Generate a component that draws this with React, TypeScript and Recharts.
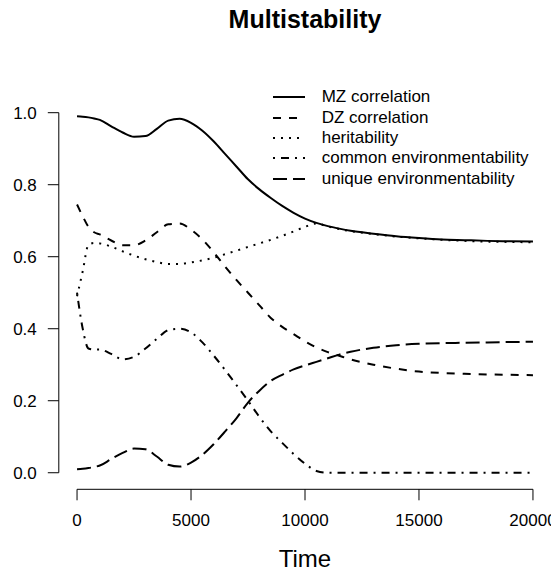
import React from 'react';
import { LineChart, Line, XAxis, YAxis, Legend, ReferenceLine } from 'recharts';

const time = [
  0, 250, 500, 750, 1000, 1500, 2000, 2500, 3000, 3500, 4000, 4500, 5000, 5500, 6000, 6500,
  7000, 7500, 8000, 8500, 9000, 9500, 10000, 10500, 11000, 11500, 12000, 13000, 14000, 15000,
  16000, 17000, 18000, 19000, 20000,
];
const mzCorrelation = [
  0.99, 0.989, 0.987, 0.984, 0.98, 0.962, 0.945, 0.933, 0.935, 0.955, 0.978, 0.983, 0.972, 0.95,
  0.92, 0.885, 0.85, 0.815, 0.787, 0.763, 0.741, 0.722, 0.706, 0.694, 0.685, 0.678, 0.672, 0.664,
  0.657, 0.652, 0.648, 0.646, 0.644, 0.643, 0.642,
];
const dzCorrelation = [
  0.745, 0.712, 0.683, 0.668, 0.662, 0.645, 0.632, 0.632, 0.645, 0.668, 0.69, 0.692, 0.675, 0.648,
  0.612, 0.572, 0.535, 0.5, 0.465, 0.43, 0.405, 0.385, 0.365, 0.348, 0.335, 0.325, 0.315, 0.3,
  0.289, 0.281, 0.277, 0.275, 0.273, 0.272, 0.271,
];
const heritability = [
  0.49, 0.56, 0.633, 0.638, 0.637, 0.628, 0.615, 0.603, 0.593, 0.585, 0.58, 0.58, 0.584, 0.59,
  0.597, 0.607, 0.617, 0.627, 0.637, 0.647, 0.658, 0.67, 0.683, 0.692, 0.684, 0.677, 0.671, 0.663,
  0.656, 0.651, 0.647, 0.644, 0.642, 0.641, 0.64,
];
const commonEnv = [
  0.5, 0.4, 0.345, 0.342, 0.342, 0.33, 0.315, 0.322, 0.345, 0.372, 0.396, 0.4, 0.39, 0.362, 0.325,
  0.285, 0.243, 0.2, 0.155, 0.115, 0.083, 0.052, 0.025, 0.005, 0, 0, 0, 0, 0, 0, 0, 0, 0, 0, 0,
];
const uniqueEnv = [
  0.01, 0.011, 0.013, 0.016, 0.02, 0.038, 0.055, 0.067, 0.065, 0.045, 0.022, 0.017, 0.028, 0.05,
  0.08, 0.115, 0.152, 0.195, 0.228, 0.255, 0.272, 0.287, 0.298, 0.308, 0.318, 0.328, 0.336, 0.347,
  0.354, 0.358, 0.36, 0.361, 0.362, 0.363, 0.364,
];

const xTicks = [0, 5000, 10000, 15000, 20000];
const yTicks = [0, 0.2, 0.4, 0.6, 0.8, 1.0];

const series = [
  { key: 'mz', name: 'MZ correlation', dash: undefined },
  { key: 'dz', name: 'DZ correlation', dash: '8 8' },
  { key: 'h2', name: 'heritability', dash: '2 6' },
  { key: 'c2', name: 'common environmentability', dash: '2 6 8 6' },
  { key: 'e2', name: 'unique environmentability', dash: '14 6' },
];

const data = time.map((t, i) => ({
  t,
  mz: mzCorrelation[i],
  dz: dzCorrelation[i],
  h2: heritability[i],
  c2: commonEnv[i],
  e2: uniqueEnv[i],
}));

const font = '"Liberation Sans", Arial, Helvetica, sans-serif';

const renderLegend = () => (
  <div style={{ fontFamily: font, fontSize: 17, color: '#000' }}>
    {series.map((s) => (
      <div key={s.key} style={{ display: 'flex', alignItems: 'center', height: 20.4 }}>
        <svg width={32} height={4} style={{ display: 'block' }}>
          <line x1={0} y1={2} x2={32} y2={2} stroke="#000" strokeWidth={2} strokeDasharray={s.dash} />
        </svg>
        <span style={{ marginLeft: 16.7, whiteSpace: 'nowrap' }}>{s.name}</span>
      </div>
    ))}
  </div>
);

export default function App() {
  return (
    <div style={{ position: 'relative', width: 551, height: 564 }}>
      <div
        style={{
          position: 'absolute',
          left: 97,
          top: -1,
          width: 400,
          textAlign: 'center',
          fontFamily: font,
          fontWeight: 'bold',
          fontSize: 25,
          lineHeight: '25px',
          zIndex: 2,
        }}
      >
        Multistability
      </div>
      <LineChart
        width={551}
        height={564}
        data={data}
        margin={{ top: 90.3, right: 7.8, bottom: 0, left: 0 }}
        style={{ overflow: 'visible' }}
      >
        <XAxis
          dataKey="t"
          type="number"
          domain={[-800, 20800]}
          ticks={xTicks}
          axisLine={false}
          tickSize={11}
          tickMargin={14}
          height={82.7}
          tickLine={{ stroke: '#000' }}
          tick={{ fill: '#000', fontSize: 17, fontFamily: font }}
          label={{ value: 'Time', position: 'insideBottom', offset: 5, fill: '#000', fontSize: 24, fontFamily: font }}
        />
        <YAxis
          type="number"
          domain={[-0.046, 1.04]}
          ticks={yTicks}
          allowDataOverflow
          axisLine={false}
          width={50.8}
          tickSize={11}
          tickMargin={11}
          tickFormatter={(v: number) => v.toFixed(1)}
          tickLine={{ stroke: '#000' }}
          tick={{ fill: '#000', fontSize: 17, fontFamily: font }}
        />
        <ReferenceLine
          segment={[{ x: 0, y: -0.046 }, { x: 20000, y: -0.046 }]}
          stroke="#000"
          ifOverflow="visible"
        />
        <ReferenceLine
          segment={[{ x: -800, y: 0 }, { x: -800, y: 1 }]}
          stroke="#000"
          ifOverflow="visible"
        />
        {series.map((s) => (
          <Line
            key={s.key}
            dataKey={s.key}
            name={s.name}
            type="monotone"
            stroke="#000"
            strokeWidth={2}
            strokeDasharray={s.dash}
            dot={false}
            activeDot={false}
            isAnimationActive={false}
          />
        ))}
        <Legend
          layout="vertical"
          align="center"
          verticalAlign="middle"
          content={renderLegend}
          wrapperStyle={{ left: 265, top: 79.1, width: 280 }}
        />
      </LineChart>
    </div>
  );
}
